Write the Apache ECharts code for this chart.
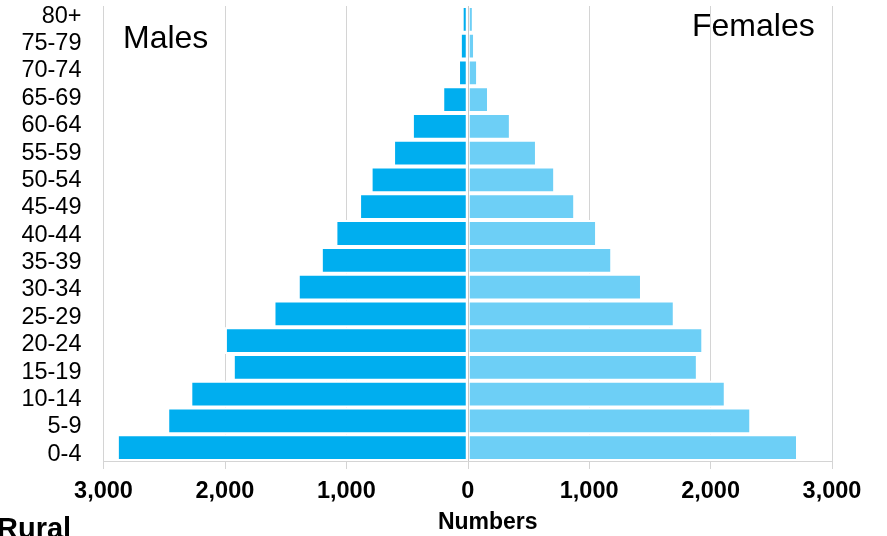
<!DOCTYPE html>
<html>
<head>
<meta charset="utf-8">
<script src="https://cdn.jsdelivr.net/npm/echarts@6/dist/echarts.min.js"></script>
<style>
  html, body { margin: 0; padding: 0; background: #fff; }
  #chart { width: 887px; height: 536px; }
</style>
</head>
<body>
<div id="chart"></div>
<script>
// Age groups, youngest at the bottom
const ageGroups = ['0-4', '5-9', '10-14', '15-19', '20-24', '25-29', '30-34', '35-39',
  '40-44', '45-49', '50-54', '55-59', '60-64', '65-69', '70-74', '75-79', '80+'];

// Rural population by sex
const males = [2890, 2475, 2285, 1935, 2000, 1600, 1400, 1210,
  1090, 895, 800, 615, 460, 210, 80, 65, 50];
const females = [2720, 2335, 2125, 1895, 1940, 1705, 1435, 1190,
  1065, 885, 720, 570, 355, 175, 85, 60, 50];

const xTicks = { min: -3000, max: 3000, interval: 1000 };

const FONT = 'Liberation Sans, Arial, sans-serif';
const MALE_COLOR = '#00AEEF';
const FEMALE_COLOR = '#6DCFF6';
const GRID_COLOR = '#d4d4d4';

const chart = echarts.init(document.getElementById('chart'), null, { renderer: 'canvas' });

const fmt = v => Math.abs(v).toLocaleString('en-US');

chart.setOption({
  animation: false,
  backgroundColor: '#fff',
  grid: [
    { left: 103.5, right: 55, top: 6, bottom: 75, containLabel: false, outerBoundsMode: 'none' },
    // Separate band for the age labels
    { left: 103.5, right: 55, top: 2.5, bottom: 68, containLabel: false, outerBoundsMode: 'none' }
  ],
  xAxis: [
    {
      type: 'value',
      gridIndex: 0,
      min: xTicks.min,
      max: xTicks.max,
      interval: xTicks.interval,
      name: 'Numbers',
      nameLocation: 'middle',
      nameGap: 50,
      nameTextStyle: {
        fontFamily: FONT, fontSize: 23, fontWeight: 'bold', color: '#000',
        padding: [0, 0, 0, 40]
      },
      axisLine: { show: true, lineStyle: { color: GRID_COLOR, width: 1 } },
      axisTick: { show: true, length: 8, lineStyle: { color: GRID_COLOR } },
      splitLine: { show: true, lineStyle: { color: GRID_COLOR, width: 1 } },
      axisLabel: {
        fontFamily: FONT, fontSize: 23.5, fontWeight: 'bold', color: '#000',
        margin: 19, formatter: fmt
      }
    },
    { type: 'value', gridIndex: 1, show: false, min: 0, max: 1 }
  ],
  yAxis: [
    {
      type: 'category',
      gridIndex: 0,
      data: ageGroups,
      axisLine: { show: false },
      axisTick: { show: false },
      axisLabel: { show: false },
      splitLine: { show: false }
    },
    {
      type: 'category',
      gridIndex: 1,
      data: ageGroups,
      axisLine: { show: false },
      axisTick: { show: false },
      splitLine: { show: false },
      axisLabel: {
        interval: 0,
        fontFamily: FONT, fontSize: 23.5, color: '#000', margin: 22
      }
    }
  ],
  series: [
    {
      name: 'Males',
      type: 'bar',
      stack: 'pop',
      xAxisIndex: 0, yAxisIndex: 0,
      barCategoryGap: '0%',
      data: males.map(v => -v),
      itemStyle: { color: MALE_COLOR, borderColor: '#fff', borderWidth: 2 },
      markLine: {
        silent: true,
        symbol: 'none',
        label: { show: false },
        lineStyle: { color: '#c8c8c8', width: 1, type: 'solid' },
        data: [{ xAxis: 0 }]
      }
    },
    {
      name: 'Females',
      type: 'bar',
      stack: 'pop',
      xAxisIndex: 0, yAxisIndex: 0,
      barCategoryGap: '0%',
      data: females,
      itemStyle: { color: FEMALE_COLOR, borderColor: '#fff', borderWidth: 2 }
    }
  ],
  graphic: [
    {
      type: 'text', left: 123, top: 23,
      style: { text: 'Males', font: '32px ' + FONT, fill: '#000' }
    },
    {
      type: 'text', left: 692, top: 11,
      style: { text: 'Females', font: '32px ' + FONT, fill: '#000' }
    },
    {
      type: 'text', left: -3, top: 515,
      style: { text: 'Rural', font: 'bold 29px ' + FONT, fill: '#000' }
    }
  ]
});
</script>
</body>
</html>
